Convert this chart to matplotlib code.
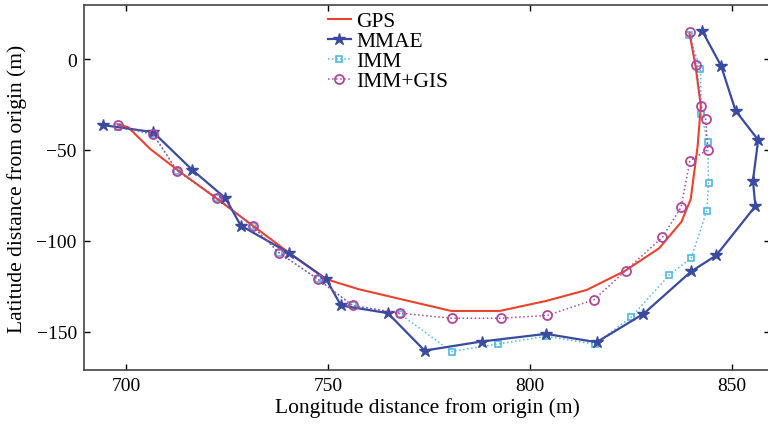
import matplotlib.pyplot as plt

plt.rcParams['font.family'] = ['Liberation Serif', 'DejaVu Serif']
plt.rcParams['mathtext.fontset'] = 'stix'

gps_x = [698, 700.5, 706, 713, 722.6, 740, 749.5, 757.5, 768, 780.5, 792.5, 804, 814,
         823.5, 832, 837.5, 839.8, 841.5, 842.3, 841, 839.5]
gps_y = [-36, -37.5, -49.5, -61.5, -77, -106, -121, -126.5, -132, -138.5, -138.5, -133, -127,
         -116.5, -104, -89.5, -77, -48, -26, -4, 14]

mmae_x = [694.2, 706.7, 716.3, 724.6, 728.4, 740.3, 749.5, 753.2, 764.8, 773.9, 788, 804,
          816.5, 828.1, 839.9, 846.1, 855.8, 855.2, 856.5, 850.9, 847.3, 842.6]
mmae_y = [-36.3, -40.2, -60.8, -76.5, -91.6, -106.6, -120.9, -135.5, -139.7, -160.3, -155.3,
          -151.1, -155.7, -140.1, -116.8, -108, -80.9, -66.8, -44.5, -28.4, -3.7, 15.6]

imm_x = [697.9, 706.7, 712.6, 722.6, 731.3, 737.9, 747.4, 756.1, 767.7, 780.6, 792.2, 804,
         816.1, 825, 834.5, 839.9, 843.8, 844.2, 844, 842.4, 842.2, 839.3]
imm_y = [-37.5, -41.5, -61.5, -76.5, -92, -106.5, -121, -135.5, -140, -160.8, -156.6, -152.4,
         -156.8, -142, -118.7, -109.5, -83.3, -68.1, -45.8, -30.2, -5.5, 13.2]

gis_x = [697.9, 706.7, 712.6, 722.6, 731.3, 737.9, 747.4, 756.1, 767.7, 780.6, 792.8, 804.2,
         815.8, 823.7, 832.8, 837.4, 839.6, 844, 843.5, 842.4, 841.1, 839.5]
gis_y = [-36.5, -41.2, -61.4, -76.5, -91.9, -106.6, -120.9, -135.5, -139.7, -142.5, -142.5,
         -141, -132.4, -116.3, -98, -81.5, -55.9, -49.8, -33, -26, -3.3, 15]

fig = plt.figure(figsize=(7.68, 4.27), dpi=100)
ax = fig.add_axes([0.109, 0.131, 0.894, 0.855])

ax.plot(gps_x, gps_y, color='#e8432e', lw=1.5, label='GPS', zorder=3)
ax.plot(mmae_x, mmae_y, color='#3a4a9e', lw=1.6, marker='*', ms=9, label='MMAE', zorder=4)
ax.plot(imm_x, imm_y, color='#4fb8e6', lw=1.1, ls=':', marker='s', ms=5, mfc='none',
        mew=1.2, label='IMM', zorder=2)
ax.plot(gis_x, gis_y, color='#b0479b', lw=1.1, ls=':', marker='o', ms=6.5, mfc='none',
        mew=1.3, label='IMM+GIS', zorder=5)

ax.set_xlim(689.5, 859.5)
ax.set_ylim(-171, 29.7)
ax.set_xticks([700, 750, 800, 850])
ax.set_yticks([0, -50, -100, -150])
ax.tick_params(direction='in', length=4, width=1, labelsize=14, top=True, right=True, pad=5)
for s in ax.spines.values():
    s.set_linewidth(1.2)
    s.set_color('#444444')

ax.set_xlabel('Longitude distance from origin (m)', fontsize=15.5, labelpad=2)
ax.set_ylabel('Latitude distance from origin (m)', fontsize=15.5)
ax.yaxis.set_label_coords(-0.082, 0.5)

ax.legend(loc='upper left', bbox_to_anchor=(0.352, 0.989), frameon=False, fontsize=15.5,
          handlelength=1.1, handletextpad=0.25, labelspacing=0.0, borderaxespad=0.0,
          borderpad=0.1)

fig.savefig('out.png', dpi=100)
